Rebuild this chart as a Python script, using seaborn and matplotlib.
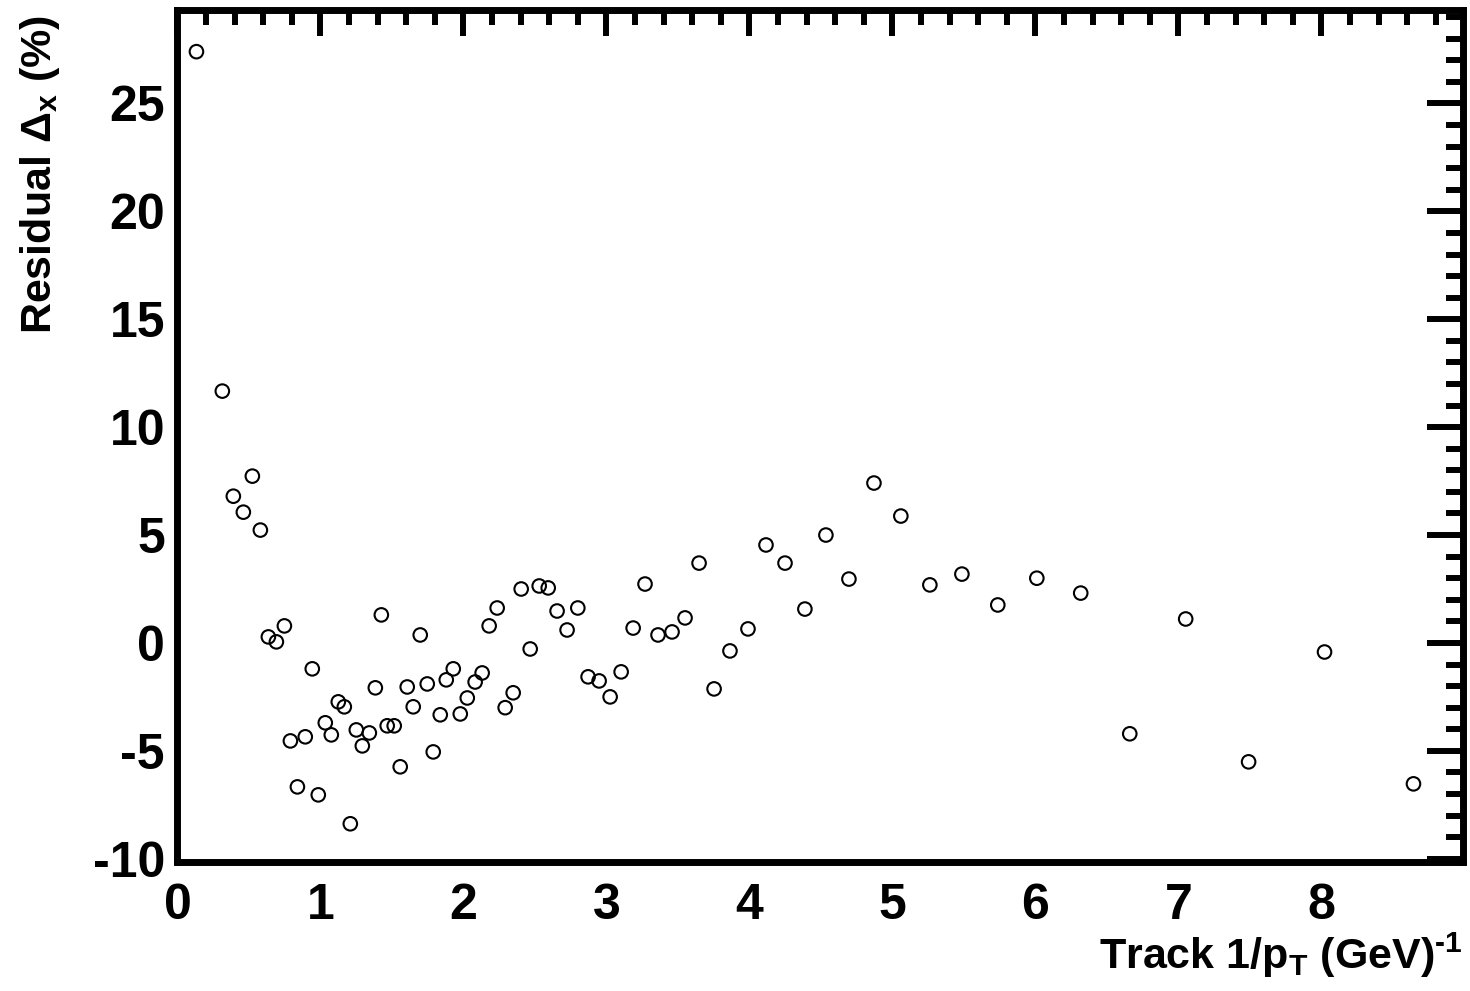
import matplotlib
matplotlib.use("Agg")
import matplotlib.pyplot as plt
from matplotlib.ticker import MultipleLocator
import seaborn as sns
import pandas as pd

# Track 1/pT (GeV^-1) and the x residual (%) for each bin
inv_pt = [0.133, 0.314, 0.391, 0.461, 0.524, 0.580, 0.636, 0.692, 0.748, 0.790,
          0.839, 0.894, 0.943, 0.985, 1.034, 1.076, 1.125, 1.167, 1.209, 1.251,
          1.293, 1.342, 1.384, 1.426, 1.467, 1.516, 1.558, 1.607, 1.649, 1.698,
          1.747, 1.789, 1.838, 1.880, 1.929, 1.978, 2.027, 2.082, 2.131, 2.180,
          2.236, 2.292, 2.348, 2.404, 2.467, 2.530, 2.593, 2.655, 2.725, 2.800,
          2.872, 2.949, 3.026, 3.103, 3.187, 3.270, 3.361, 3.459, 3.550, 3.648,
          3.753, 3.864, 3.990, 4.116, 4.249, 4.388, 4.535, 4.696, 4.871, 5.059,
          5.262, 5.486, 5.737, 6.010, 6.317, 6.660, 7.051, 7.491, 8.022, 8.644]
residual = [27.4, 11.67, 6.80, 6.06, 7.73, 5.23, 0.28, 0.05, 0.79, -4.54,
            -6.67, -4.35, -1.20, -7.04, -3.70, -4.26, -2.73, -2.96, -8.38, -4.03,
            -4.77, -4.17, -2.08, 1.30, -3.84, -3.84, -5.74, -2.04, -2.96, 0.37,
            -1.90, -5.05, -3.33, -1.71, -1.20, -3.29, -2.55, -1.81, -1.39, 0.79,
            1.62, -3.00, -2.31, 2.50, -0.28, 2.64, 2.55, 1.48, 0.60, 1.62,
            -1.57, -1.76, -2.50, -1.34, 0.69, 2.73, 0.37, 0.51, 1.16, 3.70,
            -2.13, -0.37, 0.65, 4.54, 3.70, 1.57, 5.00, 2.96, 7.41, 5.88,
            2.69, 3.19, 1.76, 3.00, 2.31, -4.21, 1.11, -5.51, -0.42, -6.53]

x_range = (0.0, 8.99)
y_range = (-10.15, 29.33)

sns.set_style("white")
plt.rcParams["font.family"] = ["Liberation Sans", "DejaVu Sans"]
plt.rcParams["font.weight"] = "bold"
plt.rcParams["text.color"] = "black"
plt.rcParams["axes.labelcolor"] = "black"
plt.rcParams["xtick.color"] = "black"
plt.rcParams["ytick.color"] = "black"
plt.rcParams["axes.unicode_minus"] = False
plt.rcParams["mathtext.fontset"] = "custom"
plt.rcParams["mathtext.rm"] = "Liberation Sans:bold"
plt.rcParams["mathtext.it"] = "Liberation Sans:bold"
plt.rcParams["mathtext.bf"] = "Liberation Sans:bold"
plt.rcParams["mathtext.sf"] = "Liberation Sans"

df = pd.DataFrame({"inv_pt": inv_pt, "residual": residual})

fig = plt.figure(figsize=(14.7, 9.91), dpi=100)
ax = fig.add_axes([0.1207, 0.1302, 0.9952 - 0.1207, 0.9899 - 0.1302])

sns.scatterplot(data=df, x="inv_pt", y="residual", ax=ax, marker="o", s=95,
                facecolor="none", edgecolor="black", linewidth=1.5, zorder=3)

ax.set_xlim(*x_range)
ax.set_ylim(*y_range)

ax.xaxis.set_major_locator(MultipleLocator(1))
ax.xaxis.set_minor_locator(MultipleLocator(0.2))
ax.yaxis.set_major_locator(MultipleLocator(5))
ax.yaxis.set_minor_locator(MultipleLocator(1))

for sp in ax.spines.values():
    sp.set_linewidth(5)
    sp.set_color("black")

ax.tick_params(which="both", direction="in", top=True, right=True,
               width=4.3, color="black")
ax.tick_params(axis="x", which="major", length=19, pad=15, labelsize=36,
               labelcolor="black")
ax.tick_params(axis="x", which="minor", length=11)
ax.tick_params(axis="y", which="major", length=26, pad=9, labelsize=36,
               labelcolor="black")
ax.tick_params(axis="y", which="minor", length=12.5)

for lab in ax.get_xticklabels() + ax.get_yticklabels():
    lab.set_fontweight("bold")

ax.set_xlabel(r"Track 1/p$_{\mathrm{T}}$ (GeV)$^{\text{-1}}$", fontsize=31,
              fontweight="bold", loc="right", color="black")
ax.set_ylabel(r"Residual $\mathsf{\Delta}_{\mathrm{x}}$ (%)", fontsize=31,
              fontweight="bold", loc="top", color="black")
ax.xaxis.set_label_coords(1.0, -0.08)
ax.yaxis.set_label_coords(-0.09, 0.994)

fig.savefig("out.png", dpi=100, facecolor="white")
